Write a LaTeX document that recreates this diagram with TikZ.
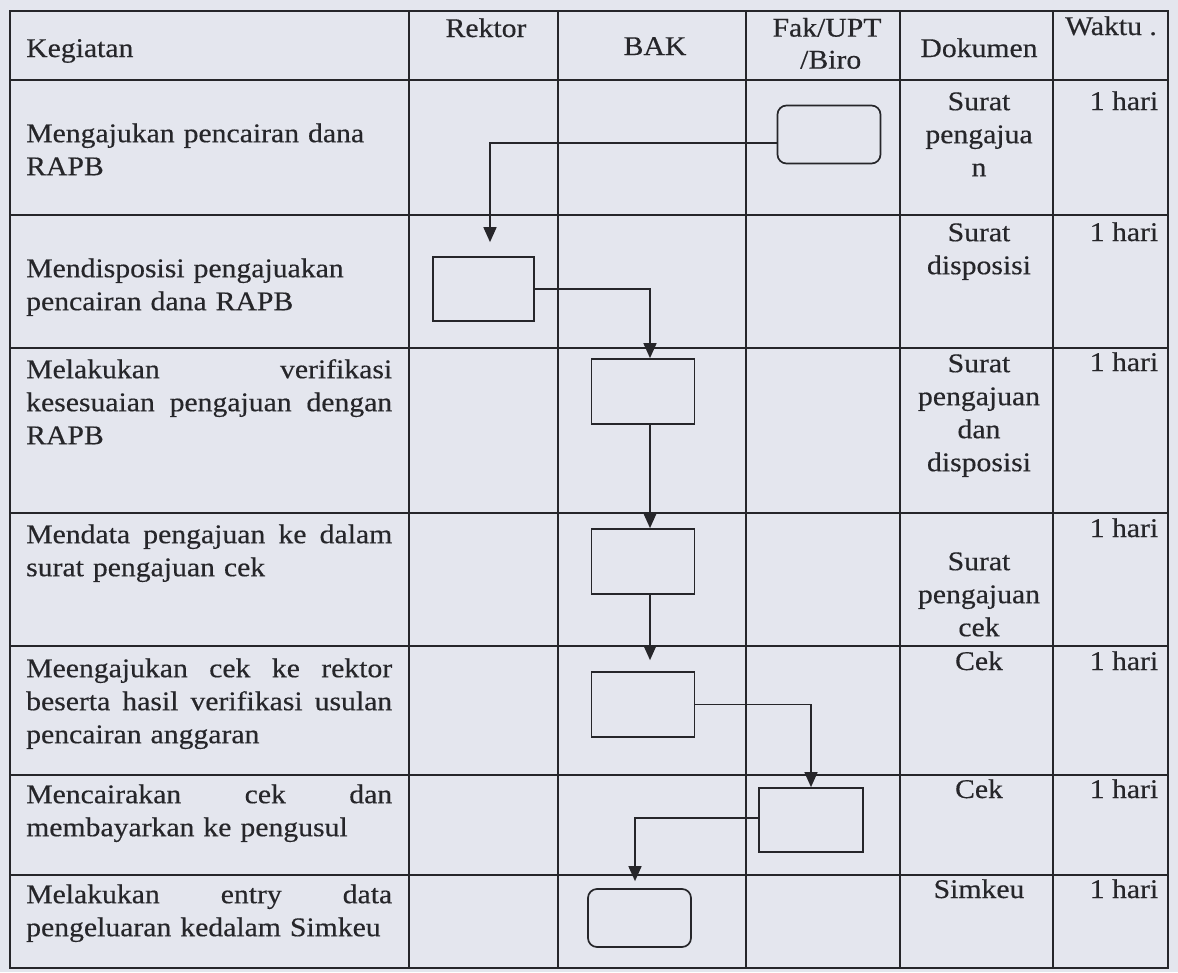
\documentclass[tikz,border=0pt]{standalone}
\usepackage{fontspec}
\setmainfont{Liberation Serif}[FakeStretch=1.1,FakeBold=0.4]
\usetikzlibrary{arrows.meta}
\definecolor{paper}{RGB}{228,230,238}
\definecolor{ink}{RGB}{38,38,42}

% width of the activity column text and a justified line in it
\newlength\kw
\setlength\kw{366pt}
\newcommand\jline[1]{\hbox to\kw{#1}}

\begin{document}
\begin{tikzpicture}[x=1pt,y=-1pt,
  every node/.style={inner sep=0pt, text=ink},
  txt/.style={font=\fontsize{27}{33}\selectfont},
  cellL/.style={txt, anchor=north west, text width=\kw, align=left},
  cellC/.style={txt, anchor=north, align=center},
  hdr/.style={txt, anchor=base},
  box/.style={draw=ink, line width=1.7pt, minimum width=103pt, minimum height=65pt},
  rbox/.style={box, rounded corners=9pt, minimum height=58pt},
  flow/.style={draw=ink, line width=1.6pt, -{Triangle[length=15pt,width=13pt]}},
  grid/.style={draw=ink, line width=1.7pt}]

\fill[paper] (0,0) rectangle (1178,972);
\useasboundingbox (0,0) rectangle (1178,972);

% table frame and rules
\draw[grid] (10,11) rectangle (1168,968);
\foreach \yy in {80,215,348,513,646,775,875}
  \draw[grid] (10,\yy) -- (1168,\yy);
\foreach \xx in {409,558,746,900,1053}
  \draw[grid] (\xx,11) -- (\xx,968);

% header (north of a strut line = baseline - 23.1)
\node[hdr, anchor=base west] (hK) at (26,57) {Kegiatan};
\node[hdr] (hR) at (486,37) {Rektor};
\node[hdr] (hB) at (655,55) {BAK};
\node[cellC, font=\fontsize{27}{32}\selectfont] (hF) at (827,14) {\strut Fak/UPT\\\strut\ /Biro};
\node[hdr] (hD) at (979,57) {Dokumen};
\node[hdr] (hW) at (1111,35) {Waktu .};

% activities
\node[cellL] (k1) at (26,118.9) {\strut Mengajukan pencairan dana\\\strut RAPB};
\node[cellL] (k2) at (26,253.9) {\strut Mendisposisi pengajuakan\\\strut pencairan dana RAPB};
\node[cellL] (k3) at (26,354.9) {\strut\jline{Melakukan\hfill verifikasi}\\
  \strut\jline{kesesuaian\hfill pengajuan\hfill dengan}\\\strut RAPB};
\node[cellL] (k4) at (26,519.9) {\strut\jline{Mendata\hfill pengajuan\hfill ke\hfill dalam}\\
  \strut surat pengajuan cek};
\node[cellL] (k5) at (26,653.9) {\strut\jline{Meengajukan\hfill cek\hfill ke\hfill rektor}\\
  \strut\jline{beserta\hfill hasil\hfill verifikasi\hfill usulan}\\\strut pencairan anggaran};
\node[cellL] (k6) at (26,779.9) {\strut\jline{Mencairakan\hfill cek\hfill dan}\\
  \strut membayarkan ke pengusul};
\node[cellL] (k7) at (26,879.9) {\strut\jline{Melakukan\hfill entry\hfill data}\\
  \strut pengeluaran kedalam Simkeu};

% documents
\node[cellC] (d1) at (979,86.9) {\strut Surat\\\strut pengajua\\\strut n};
\node[cellC] (d2) at (979,217.9) {\strut Surat\\\strut disposisi};
\node[cellC] (d3) at (979,348.9) {\strut Surat\\\strut pengajuan\\\strut dan\\\strut disposisi};
\node[cellC] (d4) at (979,546.9) {\strut Surat\\\strut pengajuan\\\strut cek};
\node[hdr] (d5) at (979,670) {Cek};
\node[hdr] (d6) at (979,798) {Cek};
\node[hdr] (d7) at (979,898) {Simkeu};

% durations
\foreach \nm/\yy in {w1/110,w2/241,w3/371,w4/537,w5/670,w6/798,w7/898}
  \node[hdr] (\nm) at (1124,\yy) {1 hari};

% flow symbols
\node[rbox] (f1) at (829,134.5) {};
\node[box, minimum width=101pt, minimum height=64pt] (r) at (483.5,289) {};
\node[box] (b1) at (643,391.5) {};
\node[box] (b2) at (643,561.5) {};
\node[box] (b3) at (643,704.5) {};
\node[box, minimum width=104pt, minimum height=64pt] (fk) at (811,820) {};
\node[rbox] (e) at (639.5,918) {};

% connectors
\draw[flow] ([yshift=-8.5pt]f1.west) -| ([xshift=6.5pt,yshift=14pt]r.north);
\draw[flow] (r.east) -| ([xshift=7pt]b1.north);
\draw[flow] ([xshift=7pt]b1.south) -- ([xshift=7pt]b2.north);
\draw[flow] ([xshift=7pt]b2.south) -- ([xshift=7pt,yshift=11pt]b3.north);
\draw[flow] (b3.east) -| (fk.north);
\draw[flow] ([yshift=2pt]fk.west) -| ([xshift=-4.5pt,yshift=7pt]e.north);
\end{tikzpicture}
\end{document}
